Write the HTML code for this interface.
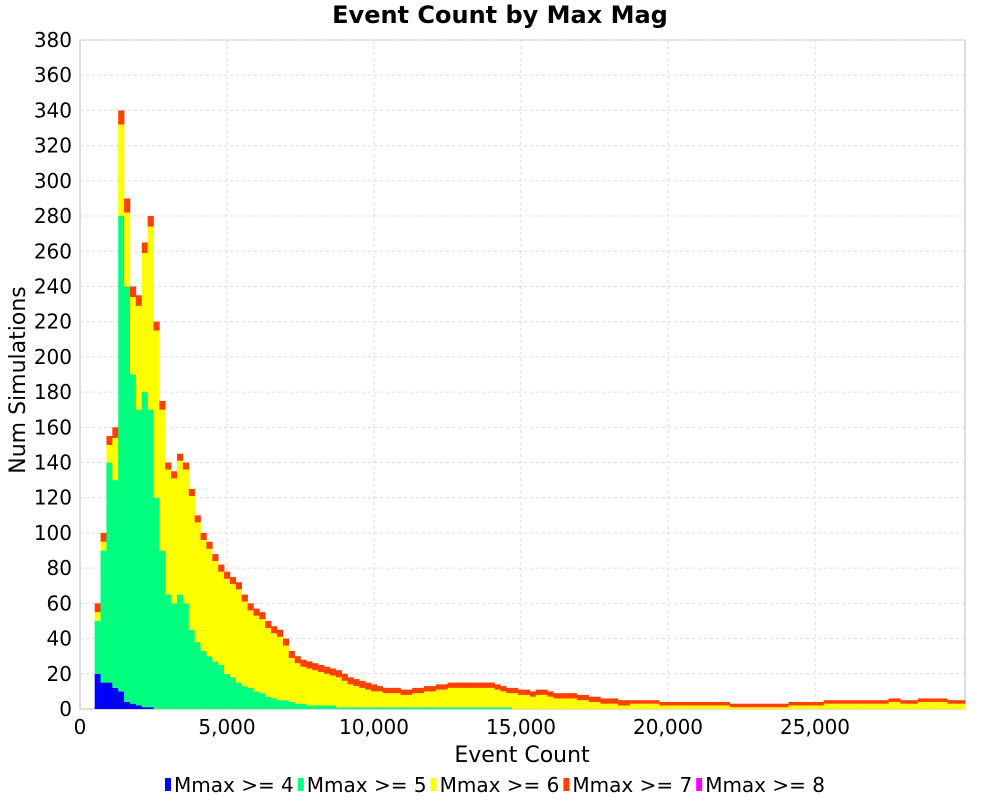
<!DOCTYPE html>
<html><head><meta charset="utf-8"><style>
body{margin:0;background:#fff;}
svg text{font-family:"DejaVu Sans","Liberation Sans",sans-serif;fill:#000;}
</style></head><body>
<svg id="chart" width="1000" height="800">
<text x="500" y="23" text-anchor="middle" font-size="24" font-weight="bold">Event Count by Max Mag</text>
<rect x="80" y="40" width="885" height="669" fill="#fff" stroke="#bbb"/>
<g id="grid"></g><g id="bars"></g><g id="axes"></g>
<text x="522" y="762" text-anchor="middle" font-size="22">Event Count</text>
<text transform="translate(25,380) rotate(-90)" text-anchor="middle" font-size="22">Num Simulations</text>
<g id="legend"></g>
</svg>
<script>
const binStarts=[];for(let i=0;i<148;i++)binStarts.push(500+200*i);
const blue=[20,15,15,12,10,4,3,2,1,1];
const green=[30,75,125,118,270,236,187,168,179,169,120,90,65,60,65,60,45,38,33,30,27,25,20,18,15,13,12,10,9,7,6,5,5,4,3,3,2,2,2,2,2,1,1,1,1,1,1,1,1,1,1,1,1,1,1,1,1,1,1,1,1,1,1,1,1,1,1,1,1,1,1];
const yellow=[5,5,10,24,52,42,44,59,79,104,95,80,71,71,76,76,76,68,63,61,57,53,54,53,53,48,44,43,42,39,37,36,31,25,23,21,21,20,19,18,17,17,15,13,12,11,10,9,9,8,8,8,7,7,8,8,9,9,10,10,11,11,11,11,11,11,11,11,10,9,8,9,8,8,7,8,8,7,6,6,6,6,5,5,4,4,3,3,3,2,2,3,3,3,3,3,2,2,2,2,2,2,2,2,2,2,2,2,1,1,1,1,1,1,1,1,1,1,2,2,2,2,2,2,3,3,3,3,3,3,3,3,3,3,3,4,4,3,3,3,4,4,4,4,4,3,3,3];
const red=[5,5,5,6,8,8,6,6,6,6,5,5,4,4,4,4,4,4,4,4,4,4,4,4,4,4,4,4,4,4,4,4,4,4,4,4,4,4,4,4,4,4,4,4,4,4,4,4,3,3,3,3,3,3,3,3,3,3,3,3,3,3,3,3,3,3,3,3,3,3,3,3,3,3,3,3,3,3,3,3,3,3,3,3,3,3,3,3,3,3,3,2,2,2,2,2,2,2,2,2,2,2,2,2,2,2,2,2,2,2,2,2,2,2,2,2,2,2,2,2,2,2,2,2,2,2,2,2,2,2,2,2,2,2,2,2,2,2,2,2,2,2,2,2,2,2,2,2];
const magenta=[];
const binWidth=200;
const xTicks=[0,5000,10000,15000,20000,25000];
const xTickLabels=["0","5,000","10,000","15,000","20,000","25,000"];
const yTicks=[];for(let v=0;v<=380;v+=20)yTicks.push(v);
const seriesNames=["Mmax >= 4","Mmax >= 5","Mmax >= 6","Mmax >= 7","Mmax >= 8"];
const seriesColors=["#0000ff","#00ff7f","#ffff00","#ff4000","#ff00ff"];
const series=[blue,green,yellow,red,magenta];

const NS="http://www.w3.org/2000/svg";
const X0=80,X1=965,XMAX=30100,Y0=709,Y1=40,YMAX=380;
const xs=v=>X0+v*(X1-X0)/XMAX;
const ys=v=>Y0-v*(Y0-Y1)/YMAX;
function mk(tag,attrs,parent){const e=document.createElementNS(NS,tag);for(const k in attrs)e.setAttribute(k,attrs[k]);parent.appendChild(e);return e;}
const grid=document.getElementById('grid'),bars=document.getElementById('bars'),axes=document.getElementById('axes'),legend=document.getElementById('legend');
yTicks.forEach(v=>{
  if(v>0){const l=mk('line',{x1:X0,x2:X1,y1:ys(v),y2:ys(v),stroke:'#ddd','stroke-dasharray':'3,3'},grid);
  
  }
  const t=mk('text',{x:72,y:ys(v)+7,'text-anchor':'end','font-size':20},axes);t.textContent=v;
  
  
});
xTicks.forEach((v,i)=>{
  if(v>0){const l=mk('line',{x1:xs(v),x2:xs(v),y1:Y1,y2:Y0,stroke:'#ddd','stroke-dasharray':'3,3'},grid);
  
  }
  const t=mk('text',{x:xs(v),y:734,'text-anchor':'middle','font-size':20},axes);t.textContent=xTickLabels[i];
  
  
});
binStarts.forEach((b,i)=>{
  let cum=0;
  series.forEach((s,k)=>{
    const v=s[i]||0;if(v<=0)return;
    const r=mk('rect',{x:xs(b),width:xs(b+binWidth)-xs(b)+0.3,y:ys(cum+v),height:ys(cum)-ys(cum+v),fill:seriesColors[k]},bars);
    
    
    cum+=v;
  });
});
let lx=165;
seriesNames.forEach((n,k)=>{
  const g=mk('g',{},legend);
  
  
  mk('rect',{x:lx,y:778,width:6,height:13,fill:seriesColors[k]},g);
  const t=mk('text',{x:lx+9,y:792,'font-size':20},g);t.textContent=n;
  lx+=9+t.getComputedTextLength()+4;
});
</script>
</body></html>
